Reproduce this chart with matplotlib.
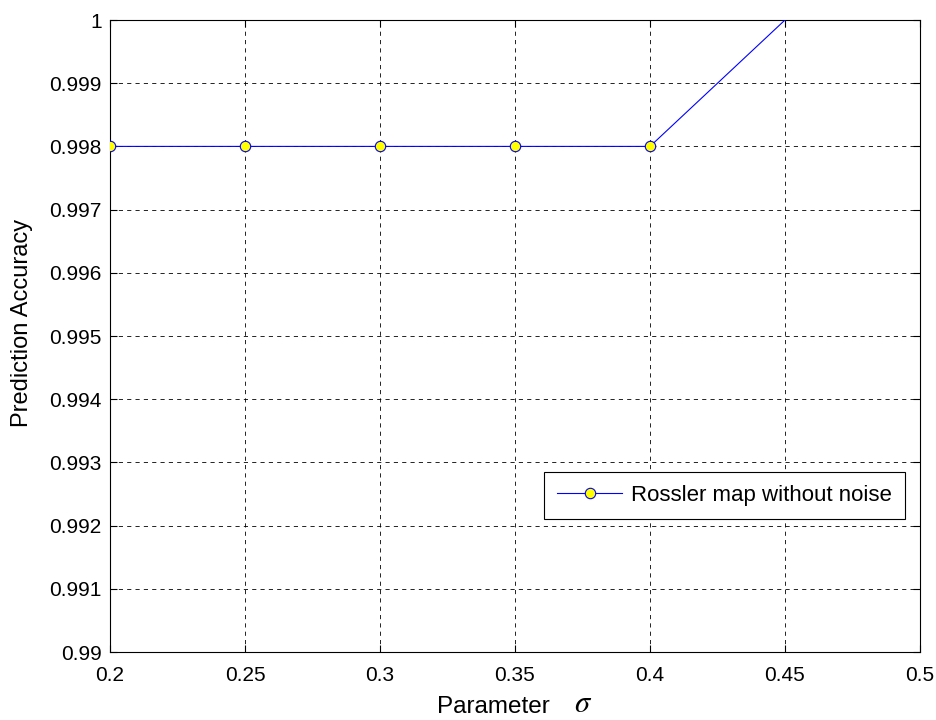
import matplotlib
matplotlib.use("Agg")
import matplotlib.pyplot as plt

sigma = [0.2, 0.25, 0.3, 0.35, 0.4, 0.45]
accuracy = [0.998, 0.998, 0.998, 0.998, 0.998, 1.0]
xticks = [0.2, 0.25, 0.3, 0.35, 0.4, 0.45, 0.5]
xtick_labels = ["0.2", "0.25", "0.3", "0.35", "0.4", "0.45", "0.5"]
yticks = [0.99, 0.991, 0.992, 0.993, 0.994, 0.995, 0.996, 0.997, 0.998, 0.999, 1.0]
ytick_labels = ["0.99", "0.991", "0.992", "0.993", "0.994", "0.995",
                "0.996", "0.997", "0.998", "0.999", "1"]

plt.rcParams["font.family"] = ["Liberation Sans", "DejaVu Sans"]
plt.rcParams["mathtext.fontset"] = "stix"

fig = plt.figure(figsize=(9.37, 7.2), dpi=100)
ax = fig.add_axes([110 / 937, 1 - 652 / 720, 810 / 937, 632 / 720])

ax.plot(sigma, accuracy, color="blue", lw=0.8, marker="o", markersize=7.5,
        markerfacecolor="yellow", markeredgecolor="blue", markeredgewidth=0.8,
        markevery=list(range(len(sigma) - 1)),
        label="Rossler map without noise", zorder=3)

ax.set_xlim(0.2, 0.5)
ax.set_ylim(0.99, 1.0)
ax.set_xticks(xticks)
ax.set_xticklabels(xtick_labels)
ax.set_yticks(yticks)
ax.set_yticklabels(ytick_labels)

ax.grid(True, color="black", linestyle=(0, (5, 5)), linewidth=0.6)
ax.tick_params(direction="in", length=5, width=0.8, top=True, right=True,
               labelsize=15, pad=6)
ax.tick_params(axis="x", pad=10)
for s in ax.spines.values():
    s.set_linewidth(0.8)

# x label: sans-serif word followed by a larger italic sigma, sharing a baseline
label_y = (652 - 713) / 632
ax.set_xlabel("Parameter", fontsize=17.5)
ax.xaxis.label.set_horizontalalignment("right")
ax.xaxis.label.set_verticalalignment("baseline")
ax.xaxis.set_label_coords((550 - 110) / 810, label_y)
ax.text((574 - 110) / 810, label_y + 0.002, r"$\sigma$", transform=ax.transAxes,
        fontsize=22, ha="left", va="baseline")

ax.set_ylabel("Prediction Accuracy", fontsize=17)
ax.yaxis.set_label_coords(-0.095, 0.52)

leg = ax.legend(loc="lower right", bbox_to_anchor=(905 / 937, 1 - 519 / 720),
                bbox_transform=fig.transFigure, fontsize=16, frameon=True,
                fancybox=False, edgecolor="black", framealpha=1,
                handlelength=2.95, handletextpad=0.4, borderpad=0.58,
                borderaxespad=0)
leg.get_frame().set_linewidth(0.8)

fig.savefig("out.png", dpi=100)
